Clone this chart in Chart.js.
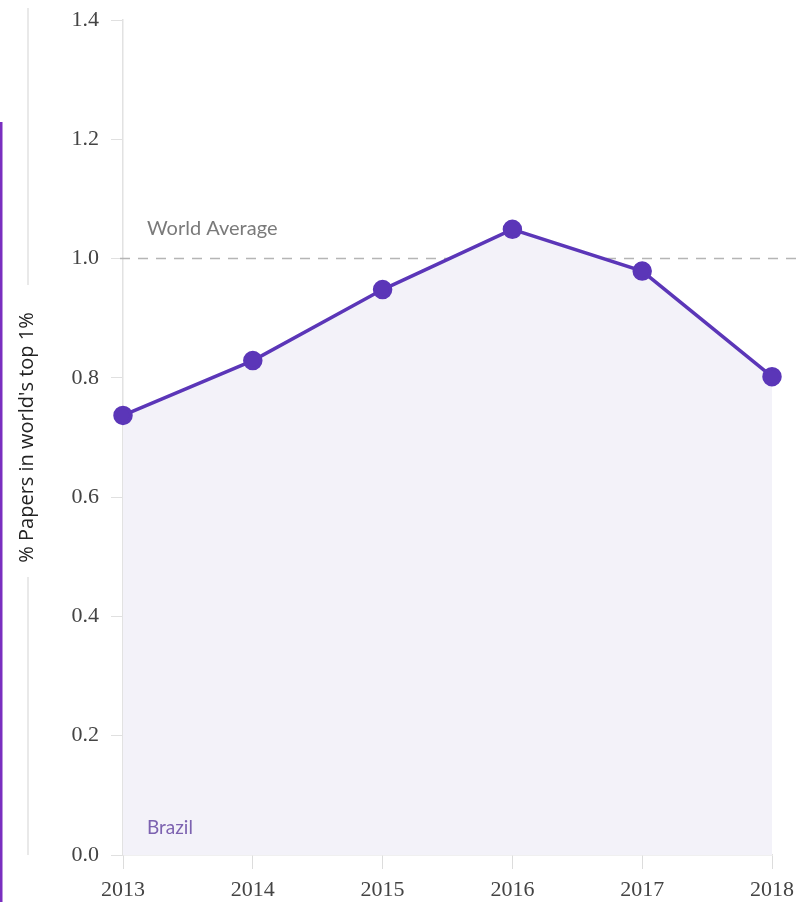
<!DOCTYPE html>
<html>
<head>
<meta charset="utf-8">
<script src="https://cdn.jsdelivr.net/npm/chart.js@4.4.0/dist/chart.umd.min.js"></script>
<style>
  html, body { margin: 0; padding: 0; background: #fff; }
  #wrap { width: 797px; height: 902px; position: relative; }
</style>
</head>
<body>
<div id="wrap"><canvas id="paperChart"></canvas></div>
<script>
// dữ liệu
const years = ["2013", "2014", "2015", "2016", "2017", "2018"];
const brazilShare = [0.737, 0.829, 0.948, 1.049, 0.979, 0.802];
const worldAverage = 1.0;
const yTicks = [0, 0.2, 0.4, 0.6, 0.8, 1.0, 1.2, 1.4];

const purple = "#5b36b8";
const tickFont = { family: "'Liberation Serif', serif", size: 22 };

// vẽ nhãn, đường trung bình và viền trang trí
const decorPlugin = {
  id: "decor",
  beforeDatasetsDraw(chart) {
    const { ctx, scales } = chart;
    const y = scales.y.getPixelForValue(worldAverage);
    ctx.save();
    ctx.strokeStyle = "#b5b5b5";
    ctx.lineWidth = 1.6;
    ctx.setLineDash([10, 8]);
    ctx.beginPath();
    ctx.moveTo(120, y);
    ctx.lineTo(chart.width, y);
    ctx.stroke();
    ctx.restore();
  },
  afterDraw(chart) {
    const { ctx, scales } = chart;
    const y = scales.y.getPixelForValue(worldAverage);
    ctx.save();
    ctx.font = "20px Lato, sans-serif";
    ctx.fillStyle = "#7a7a7a";
    ctx.textBaseline = "middle";
    ctx.fillText("World Average", 147, y - 30);
    ctx.font = "19px Lato, sans-serif";
    ctx.fillStyle = "#7c62b0";
    ctx.fillText("Brazil", 147, scales.y.getPixelForValue(0) - 27);
    // đường mảnh bên trái
    ctx.strokeStyle = "#e2e2e2";
    ctx.lineWidth = 1.5;
    ctx.beginPath();
    ctx.moveTo(28, 8); ctx.lineTo(28, 285);
    ctx.moveTo(28, 577); ctx.lineTo(28, 855);
    ctx.stroke();
    // viền tím
    ctx.fillStyle = "#7a2fc0";
    ctx.fillRect(0, 122, 2.5, chart.height - 122);
    ctx.restore();
  },
};

const ctx = document.getElementById("paperChart").getContext("2d");
const paperChart = new Chart(ctx, {
  type: "line",
  data: {
    labels: years,
    datasets: [
      {
        label: "Brazil",
        data: brazilShare,
        borderColor: purple,
        backgroundColor: "#f3f2f9",
        fill: "origin",
        borderWidth: 3.5,
        pointRadius: 8,
        pointBackgroundColor: purple,
        pointBorderColor: purple,
        tension: 0,
      },
    ],
  },
  options: {
    responsive: true,
    maintainAspectRatio: false,
    animation: false,
    layout: { padding: { top: 20, right: 25, left: 0, bottom: 0 } },
    plugins: {
      legend: { display: false },
      tooltip: { enabled: false },
    },
    scales: {
      x: {
        offset: false,
        grid: { drawOnChartArea: false, drawTicks: true, tickLength: 14, color: "#dcdcdc" },
        border: { color: "#e2e2e2", width: 1.5 },
        ticks: { font: tickFont, color: "#444", padding: 8, maxRotation: 0 },
        afterFit(scale) {
          scale.height = 47;
          scale.paddingLeft = 0;
          scale.paddingRight = 0;
        },
      },
      y: {
        min: 0,
        max: 1.4,
        afterBuildTicks(scale) { scale.ticks = yTicks.map((v) => ({ value: v })); },
        grid: { drawOnChartArea: false, drawTicks: true, tickLength: 12, color: "#e0e0e0" },
        border: { color: "#e2e2e2", width: 1.5 },
        ticks: {
          font: tickFont,
          color: "#444",
          padding: 12,
          callback: (v) => Number(v).toFixed(1),
        },
        title: {
          display: true,
          text: "% Papers in world's top 1%",
          font: { family: "'Open Sans', sans-serif", size: 20 },
          color: "#222",
          padding: { top: 15, bottom: 0 },
        },
        afterFit(scale) {
          scale.width = 123;
          scale.paddingTop = 0;
          scale.paddingBottom = 0;
        },
      },
    },
  },
  plugins: [decorPlugin],
});
</script>
</body>
</html>
